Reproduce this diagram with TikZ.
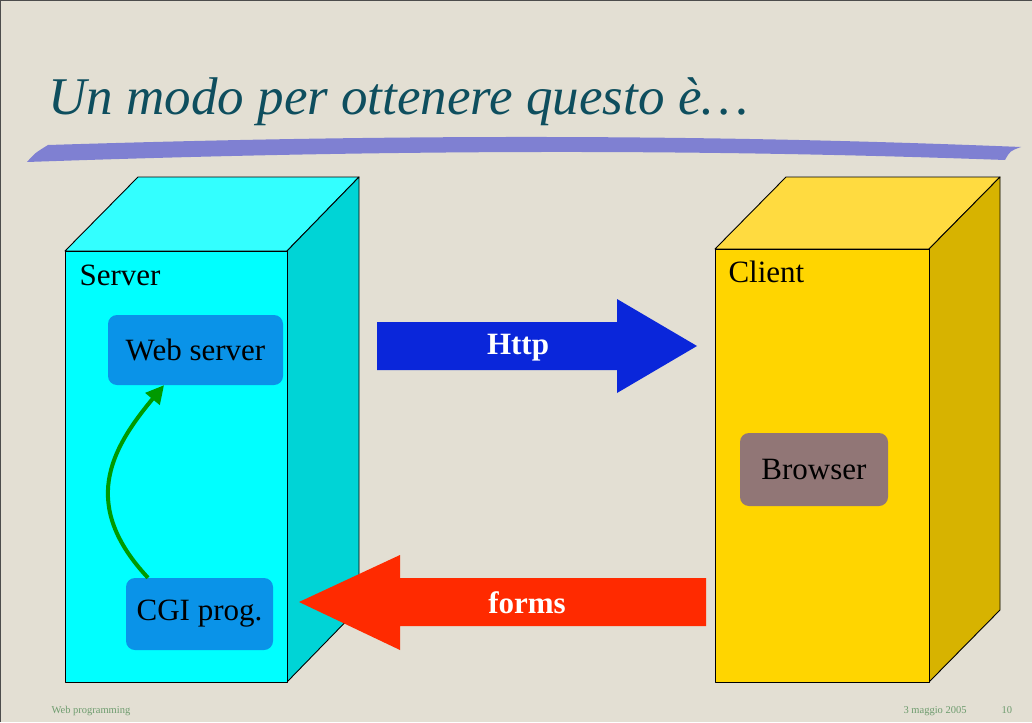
\documentclass[tikz,border=0pt]{standalone}
\usepackage{fontspec}
\setmainfont{Liberation Serif}
\usetikzlibrary{arrows.meta}
\definecolor{bg}{HTML}{E3DFD3}
\definecolor{titlecol}{HTML}{0E4E5E}
\definecolor{swoosh}{HTML}{7F80D2}
\definecolor{srvfront}{HTML}{00FFFF}
\definecolor{srvtop}{HTML}{33FFFF}
\definecolor{srvside}{HTML}{00D4D6}
\definecolor{clifront}{HTML}{FFD500}
\definecolor{clitop}{HTML}{FFDB40}
\definecolor{cliside}{HTML}{D7B300}
\definecolor{boxblue}{HTML}{0A93E8}
\definecolor{browsercol}{HTML}{917676}
\definecolor{httpcol}{HTML}{0A26DA}
\definecolor{formscol}{HTML}{FF2A00}
\definecolor{greenarr}{HTML}{009A00}
\definecolor{footcol}{HTML}{6E9C6E}
\tikzset{
  face/.style={draw=black, line width=0.9pt, line join=round},
  inbox/.style={rounded corners=9pt, inner sep=0pt, font=\fontsize{31}{36}\selectfont},
  lbl/.style={anchor=base west, font=\fontsize{31}{36}\selectfont},
  arrowlbl/.style={text=white, font=\fontsize{31}{36}\selectfont\bfseries},
  foot/.style={anchor=base west, text=footcol, font=\fontsize{10.5}{12}\selectfont}
}
\begin{document}
\begin{tikzpicture}[x=1pt,y=-1pt]
\useasboundingbox (0,0) rectangle (1032,722);
\fill[bg] (0,0) rectangle (1032,722);
\draw[black!70, line width=1pt] (0.5,721.5) -- (0.5,0.5) -- (1031.5,0.5);

% title
\node[anchor=base west, text=titlecol, font=\fontsize{53}{60}\selectfont\itshape] (title) at (45,115) {Un modo per ottenere questo è…};
\fill[swoosh] (27,162) .. controls (35,153) .. (48,145) .. controls (400,134) and (700,134) .. (1021,147)
  .. controls (1010,151) .. (1005,160) .. controls (700,149) and (400,149) .. (27,162) -- cycle;

% server cube
\filldraw[face, fill=srvtop] (65,251) -- (138,177) -- (359,177) -- (287,251) -- cycle;
\filldraw[face, fill=srvside] (287,251) -- (359,177) -- (359,608) -- (287,682) -- cycle;
\filldraw[face, fill=srvfront] (65,251) rectangle (287,682);
\node[lbl] (server) at (76,285) {Server};

% client cube
\filldraw[face, fill=clitop] (715,249) -- (786,177) -- (1000,177) -- (929,249) -- cycle;
\filldraw[face, fill=cliside] (929,249) -- (1000,177) -- (1000,610) -- (929,682) -- cycle;
\filldraw[face, fill=clifront] (715,249) rectangle (929,682);
\node[lbl] (client) at (725,282) {Client};

% inner boxes
\node[inbox, fill=boxblue, minimum width=175pt, minimum height=70pt] (web) at (195.5,350) {Web server};
\node[inbox, fill=boxblue, minimum width=147pt, minimum height=72pt] (cgi) at (199.5,614) {CGI prog.};
\node[inbox, fill=browsercol, minimum width=148pt, minimum height=73pt] (browser) at (814,469.5) {Browser};

% green connector
\draw[greenarr, line width=4pt, -{Triangle[length=18pt,width=18pt]}]
  ([xshift=-51.5pt]cgi.north) .. controls (80,505) and (110,450) .. ([xshift=-31.5pt]web.south);

% http arrow
\fill[httpcol] (377,322) -- (617,322) -- (617,299) -- (697,346) -- (617,393) -- (617,370) -- (377,370) -- cycle;
\node[arrowlbl] (http) at (518,348) {Http};

% forms arrow
\fill[formscol] (706,578) -- (400,578) -- (400,555) -- (299,602) -- (400,650) -- (400,626) -- (706,626) -- cycle;
\node[arrowlbl] (forms) at (527,603) {forms};

% footer
\node[foot] (f1) at (48,713) {Web programming};
\node[foot] (f2) at (900,713) {3 maggio 2005};
\node[foot] (f3) at (998,713) {10};
\end{tikzpicture}
\end{document}
